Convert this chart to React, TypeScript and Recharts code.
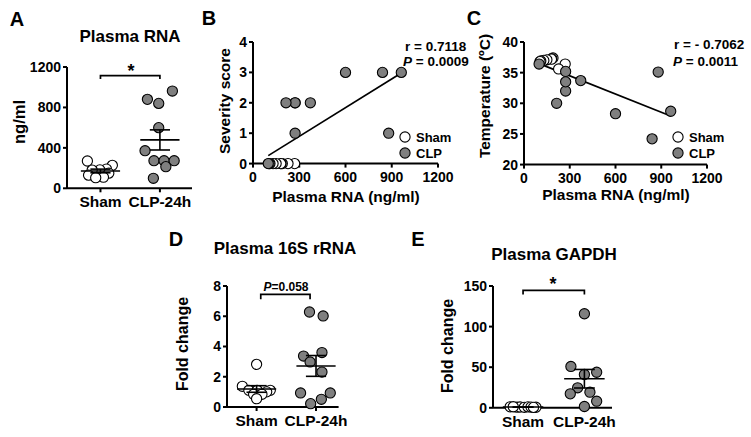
import { ScatterChart, Scatter, XAxis, YAxis } from 'recharts';

const groups = ['Sham', 'CLP-24h'];

// A: plasma RNA (ng/ml), one value per animal
const shamRna = [270, 227, 190, 182, 180, 150, 130, 110, 105];
const clpRna = [962, 880, 840, 600, 372, 273, 273, 273, 214, 99];
const shamRnaJitter = [-0.22, 0.2, 0.1, -0.01, -0.14, 0.14, -0.2, 0.05, -0.08];
const clpRnaJitter = [0.21, -0.21, -0.02, -0.02, -0.25, -0.1, 0.07, 0.24, 0.1, -0.11];

// B: severity score, same animals as above
const shamScore = [0, 0, 0, 0, 0, 0, 0, 0, 0];
const clpScore = [3, 1, 3, 3, 2, 2, 1, 2, 2, 0];

// C: body temperature (ºC), same animals
const shamTemp = [36.4, 35.6, 37.4, 37.3, 37.2, 37.1, 37.0, 36.9, 36.8];
const clpTemp = [28.7, 35.1, 24.2, 28.3, 33.7, 35.2, 32.0, 33.5, 30.0, 36.4];

// D: plasma 16S rRNA, fold change
const sham16s = [2.82, 1.37, 1.1, 1.1, 1.1, 1.0, 0.84, 0.84, 0.55];
const sham16sJitter = [0, -0.24, -0.13, 0.01, 0.23, 0.17, -0.05, 0.09, 0];
const clp16s = [6.28, 6.02, 3.6, 3.37, 2.98, 2.31, 0.93, 0.93, 0.51, 0.22];
const clp16sJitter = [-0.11, 0.12, 0.1, -0.21, -0.1, 0.1, -0.26, 0.24, 0.09, -0.09];

// E: plasma GAPDH, fold change
const shamGapdh = [1.2, 0.8, 1.0, 0.6, 1.1, 0.9, 0.7, 1.3, 0.5];
const shamGapdhJitter = [-0.21, -0.1, -0.05, 0.02, 0.08, 0.13, 0.21, -0.16, 0.17];
const clpGapdh = [115.8, 50.9, 43.8, 41, 24.6, 17.2, 19.2, 8.1, 1.6];
const clpGapdhJitter = [0, -0.22, 0.2, 0, -0.11, -0.23, 0.09, 0.2, 0];

const rnaTicks = [0, 400, 800, 1200];
const rnaXTicks = [0, 300, 600, 900, 1200];
const scoreTicks = [0, 1, 2, 3, 4];
const tempTicks = [20, 25, 30, 35, 40];
const fold16sTicks = [0, 2, 4, 6, 8];
const foldGapdhTicks = [0, 50, 100, 150];

const FONT = "'Liberation Sans', Arial, Helvetica, sans-serif";
const GREY = '#7f7f7f';
const AXIS = { stroke: '#000', strokeWidth: 2 };
const R = 5.1;
const YW = 40;
const MT = 10;
const MR = 24;
const XH = 30;

const mean = (a: number[]) => a.reduce((s, v) => s + v, 0) / a.length;
const sem = (a: number[]) => {
  const m = mean(a);
  return Math.sqrt(a.reduce((s, v) => s + (v - m) ** 2, 0) / (a.length - 1) / a.length);
};

function fitLine(xs: number[], ys: number[]) {
  const mx = mean(xs);
  const my = mean(ys);
  let sxy = 0;
  let sxx = 0;
  xs.forEach((x, i) => {
    sxy += (x - mx) * (ys[i] - my);
    sxx += (x - mx) ** 2;
  });
  const b = sxy / sxx;
  const a = my - b * mx;
  const x0 = Math.min(...xs);
  const x1 = Math.max(...xs);
  return [{ x: x0, y: a + b * x0 }, { x: x1, y: a + b * x1 }];
}

const openDot = (p: any) => <circle cx={p.cx} cy={p.cy} r={R} fill="#fff" stroke="#000" strokeWidth={1.1} />;
const greyDot = (p: any) => <circle cx={p.cx} cy={p.cy} r={R} fill={GREY} stroke="#000" strokeWidth={1.1} />;
const blank = () => <g />;

function seg(key: string, pts: { x: number; y: number }[], w = 1.6) {
  return (
    <Scatter
      key={key}
      data={pts}
      line={{ stroke: '#000', strokeWidth: w }}
      shape={blank}
      legendType="none"
      isAnimationActive={false}
    />
  );
}

function errorBars(c: number, vals: number[]) {
  const m = mean(vals);
  const e = sem(vals);
  return [
    [{ x: c - 0.33, y: m }, { x: c + 0.33, y: m }],
    [{ x: c, y: m - e }, { x: c, y: m + e }],
    [{ x: c - 0.17, y: m + e }, { x: c + 0.17, y: m + e }],
    [{ x: c - 0.17, y: m - e }, { x: c + 0.17, y: m - e }],
  ];
}

function frame(px: number, py: number, pw: number, ph: number) {
  return {
    style: { position: 'absolute' as const, left: px - YW, top: py - MT },
    width: YW + pw + MR,
    height: MT + ph + XH,
    margin: { top: MT, right: MR, bottom: 0, left: 0 },
  };
}

function Txt({ x, y, size, children, rotate, align = 'center', italic }: any) {
  const tx = align === 'left' ? '0' : '-50%';
  return (
    <div
      style={{
        position: 'absolute',
        left: x,
        top: y,
        fontSize: size,
        fontWeight: 700,
        lineHeight: 1,
        whiteSpace: 'nowrap',
        fontStyle: italic ? 'italic' : 'normal',
        transform: `translate(${tx}, -50%)${rotate ? ' rotate(-90deg)' : ''}`,
      }}
    >
      {children}
    </div>
  );
}

interface DotPlotProps {
  px: number;
  py: number;
  pw: number;
  ph: number;
  xDomain: [number, number];
  yDomain: [number, number];
  yTicks: number[];
  sham: number[];
  shamJitter: number[];
  clp: number[];
  clpJitter: number[];
  bracket: [number, number, number, number];
}

function DotPlot(p: DotPlotProps) {
  const f = frame(p.px, p.py, p.pw, p.ph);
  const shamPts = p.sham.map((v, i) => ({ x: 1 + p.shamJitter[i], y: v }));
  const clpPts = p.clp.map((v, i) => ({ x: 2 + p.clpJitter[i], y: v }));
  const [bx0, bx1, by0, by1] = p.bracket;
  const bars = [...errorBars(1, p.sham), ...errorBars(2, p.clp)];
  return (
    <ScatterChart width={f.width} height={f.height} margin={f.margin} style={f.style}>
      <XAxis
        type="number"
        dataKey="x"
        domain={p.xDomain}
        ticks={[1, 2]}
        tickFormatter={(v: number) => groups[v - 1]}
        axisLine={AXIS}
        tickLine={AXIS}
        tickSize={4}
        tickMargin={4}
        height={XH}
        tick={{ fill: '#000', fontSize: 15.5, fontWeight: 700 }}
      />
      <YAxis
        type="number"
        dataKey="y"
        domain={p.yDomain}
        ticks={p.yTicks}
        axisLine={AXIS}
        tickLine={AXIS}
        tickSize={4}
        tickMargin={2}
        width={YW}
        tick={{ fill: '#000', fontSize: 14, fontWeight: 700 }}
      />
      <Scatter data={shamPts} shape={openDot} isAnimationActive={false} />
      <Scatter data={clpPts} shape={greyDot} isAnimationActive={false} />
      {bars.map((b, i) => seg(`bar${i}`, b))}
      {seg('bracket', [
        { x: bx0, y: by0 },
        { x: bx0, y: by1 },
        { x: bx1, y: by1 },
        { x: bx1, y: by0 },
      ], 1.7)}
    </ScatterChart>
  );
}

interface CorrPlotProps {
  px: number;
  py: number;
  pw: number;
  ph: number;
  yDomain: [number, number];
  yTicks: number[];
  shamY: number[];
  clpY: number[];
}

function CorrPlot(p: CorrPlotProps) {
  const f = frame(p.px, p.py, p.pw, p.ph);
  const shamPts = shamRna.map((x, i) => ({ x, y: p.shamY[i] }));
  const clpPts = clpRna.map((x, i) => ({ x, y: p.clpY[i] }));
  const fit = fitLine([...shamRna, ...clpRna], [...p.shamY, ...p.clpY]);
  return (
    <ScatterChart width={f.width} height={f.height} margin={f.margin} style={f.style}>
      <XAxis
        type="number"
        dataKey="x"
        domain={[0, 1200]}
        ticks={rnaXTicks}
        axisLine={AXIS}
        tickLine={AXIS}
        tickSize={4}
        tickMargin={4}
        height={XH}
        tick={{ fill: '#000', fontSize: 14, fontWeight: 700 }}
      />
      <YAxis
        type="number"
        dataKey="y"
        domain={p.yDomain}
        ticks={p.yTicks}
        axisLine={AXIS}
        tickLine={AXIS}
        tickSize={4}
        tickMargin={2}
        width={YW}
        tick={{ fill: '#000', fontSize: 14, fontWeight: 700 }}
      />
      {seg('fit', fit, 1.7)}
      <Scatter data={shamPts} shape={openDot} isAnimationActive={false} />
      <Scatter data={clpPts} shape={greyDot} isAnimationActive={false} />
    </ScatterChart>
  );
}

function LegendBox({ x, y }: { x: number; y: number }) {
  return (
    <>
      <svg style={{ position: 'absolute', left: x - 7, top: y - 7 }} width={14} height={30}>
        <circle cx={7} cy={7} r={R} fill="#fff" stroke="#000" strokeWidth={1.1} />
        <circle cx={7} cy={23} r={R} fill={GREY} stroke="#000" strokeWidth={1.1} />
      </svg>
      <Txt x={x + 11} y={y} size={13} align="left">Sham</Txt>
      <Txt x={x + 11} y={y + 16} size={13} align="left">CLP</Txt>
    </>
  );
}

export default function App() {
  return (
    <div
      style={{
        position: 'absolute',
        left: 0,
        top: 0,
        width: 751,
        height: 437,
        background: '#fff',
        fontFamily: FONT,
        color: '#000',
        overflow: 'hidden',
      }}
    >
      {/* A */}
      <Txt x={17} y={19} size={20}>A</Txt>
      <Txt x={130} y={36} size={17}>Plasma RNA</Txt>
      <Txt x={19} y={122} size={16.5} rotate>ng/ml</Txt>
      <Txt x={131} y={71} size={18}>*</Txt>
      <DotPlot
        px={67}
        py={67}
        pw={125}
        ph={121.3}
        xDomain={[0.437, 2.54]}
        yDomain={[0, 1200]}
        yTicks={rnaTicks}
        sham={shamRna}
        shamJitter={shamRnaJitter}
        clp={clpRna}
        clpJitter={clpRnaJitter}
        bracket={[1, 2, 1081, 1114]}
      />

      {/* B */}
      <Txt x={209} y={18} size={20}>B</Txt>
      <Txt x={225} y={101} size={15.5} rotate>Severity score</Txt>
      <Txt x={346} y={197} size={15.5}>Plasma RNA (ng/ml)</Txt>
      <Txt x={405} y={47} size={13.5} align="left">r = 0.7118</Txt>
      <Txt x={403} y={62} size={13.5} align="left"><i>P</i> = 0.0009</Txt>
      <CorrPlot px={253} py={41.7} pw={185} ph={121.6} yDomain={[0, 4]} yTicks={scoreTicks} shamY={shamScore} clpY={clpScore} />
      <LegendBox x={405} y={137} />

      {/* C */}
      <Txt x={474} y={18} size={20}>C</Txt>
      <Txt x={485} y={96} size={15.5} rotate>Temperature (ºC)</Txt>
      <Txt x={616} y={195} size={15.5}>Plasma RNA (ng/ml)</Txt>
      <Txt x={674} y={45} size={13.5} align="left">r = - 0.7062</Txt>
      <Txt x={673} y={61.7} size={13.5} align="left"><i>P</i> = 0.0011</Txt>
      <CorrPlot px={524} py={41.7} pw={183} ph={122.6} yDomain={[20, 40]} yTicks={tempTicks} shamY={shamTemp} clpY={clpTemp} />
      <LegendBox x={678} y={137} />

      {/* D */}
      <Txt x={176} y={239} size={20}>D</Txt>
      <Txt x={285} y={248} size={17}>Plasma 16S rRNA</Txt>
      <Txt x={182.5} y={344} size={16} rotate>Fold change</Txt>
      <Txt x={286} y={286.5} size={12}><i>P</i>=0.058</Txt>
      <DotPlot
        px={226.7}
        py={285.7}
        pw={111.6}
        ph={121}
        xDomain={[0.502, 2.38]}
        yDomain={[0, 8]}
        yTicks={fold16sTicks}
        sham={sham16s}
        shamJitter={sham16sJitter}
        clp={clp16s}
        clpJitter={clp16sJitter}
        bracket={[1.07, 1.9, 7.12, 7.45]}
      />

      {/* E */}
      <Txt x={418} y={239} size={20}>E</Txt>
      <Txt x={554} y={254} size={17}>Plasma GAPDH</Txt>
      <Txt x={448} y={346} size={16} rotate>Fold change</Txt>
      <Txt x={553} y={284} size={18}>*</Txt>
      <DotPlot
        px={493}
        py={285.5}
        pw={119}
        ph={121.8}
        xDomain={[0.51, 2.45]}
        yDomain={[0, 150]}
        yTicks={foldGapdhTicks}
        sham={shamGapdh}
        shamJitter={shamGapdhJitter}
        clp={clpGapdh}
        clpJitter={clpGapdhJitter}
        bracket={[1, 2, 139.5, 144.5]}
      />
    </div>
  );
}
